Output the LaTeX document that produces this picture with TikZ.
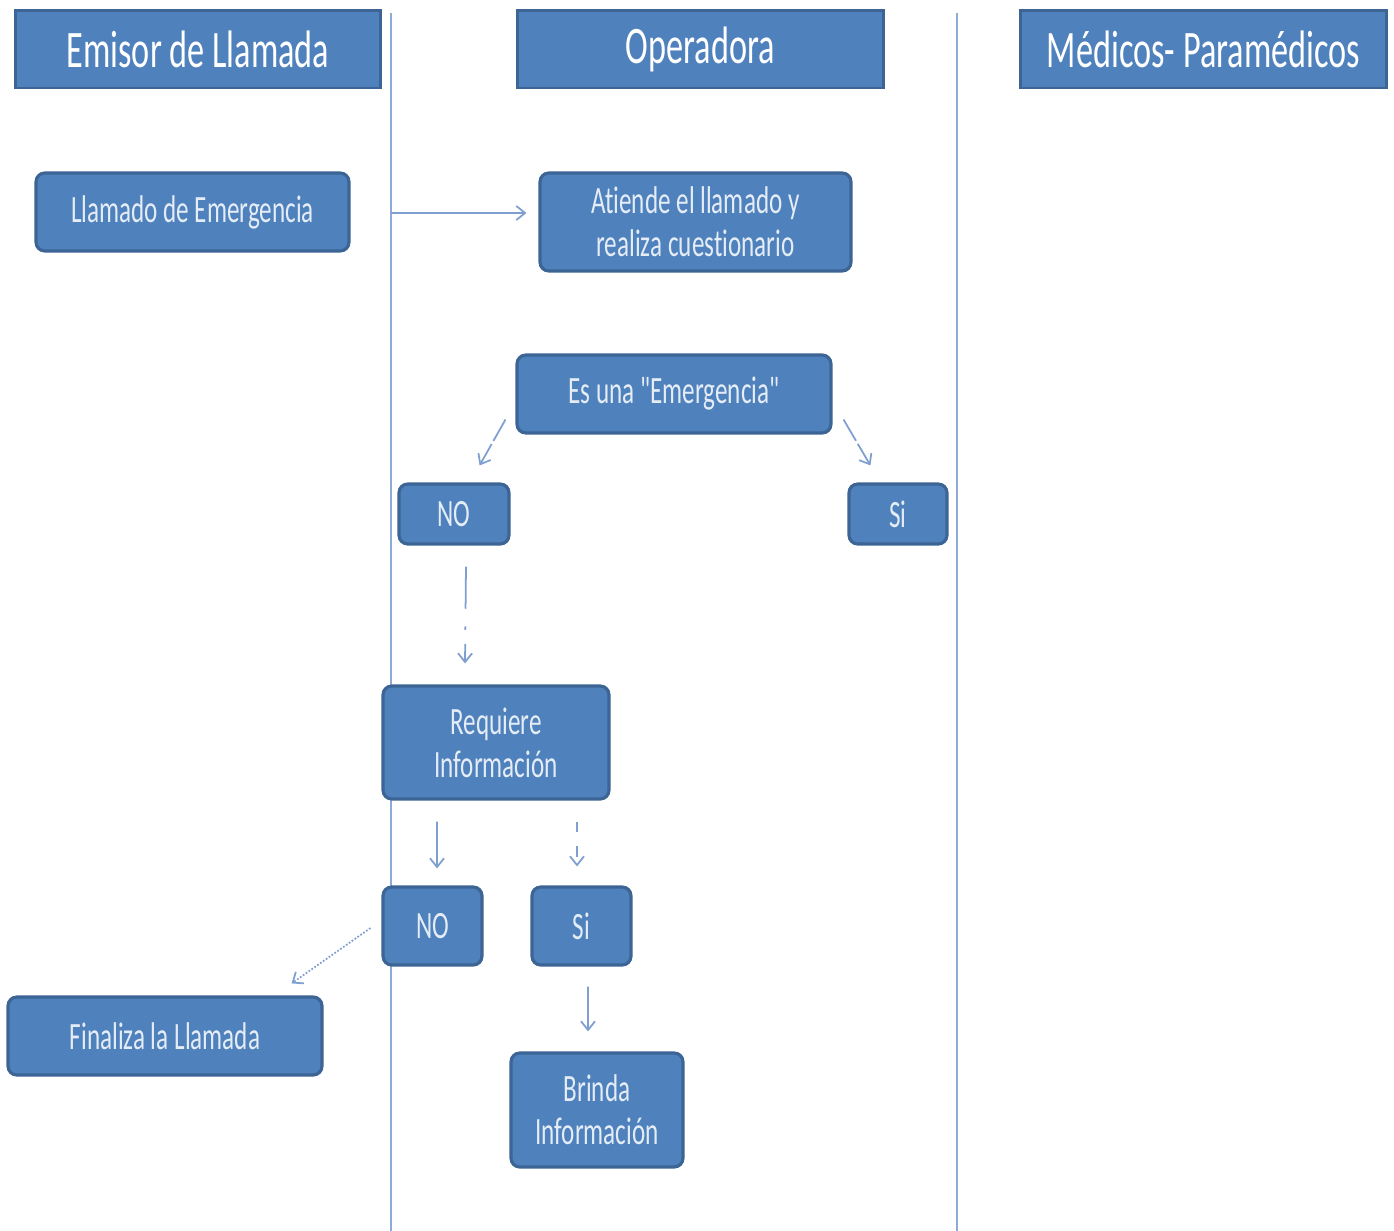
\documentclass[tikz,border=0pt]{standalone}
\usepackage{fontspec}
\setmainfont{Carlito}
\newfontfamily\cond[FakeStretch=0.65,Ligatures=NoCommon]{Carlito}
\usetikzlibrary{arrows.meta,calc}
\definecolor{boxfill}{HTML}{4F81BD}
\definecolor{boxline}{HTML}{3C6494}
\definecolor{lane}{HTML}{8EAAD6}
\definecolor{arr}{HTML}{7F9FD0}
\definecolor{btext}{HTML}{E4ECF6}
\begin{document}
\begin{tikzpicture}[x=0.02cm,y=-0.02cm,
  header/.style={draw=boxline, fill=boxfill, line width=1.7pt, text=white,
    font=\cond\fontsize{30}{34}\selectfont, inner sep=0pt, minimum height=1.56cm},
  box/.style={draw=boxline, fill=boxfill, line width=1.8pt, rounded corners=5pt,
    text=btext, font=\cond\fontsize{22}{24.5}\selectfont, align=center, inner sep=0pt},
  lanel/.style={draw=lane, line width=1.3pt},
  conn/.style={draw=arr, line width=1pt, -{Straight Barb[length=5pt,width=8pt]}}]
\useasboundingbox (0,0) rectangle (1394,1231);
% lanes
\coordinate (l1t) at (391,13); \coordinate (l1b) at (391,1231);
\coordinate (l2t) at (957,13); \coordinate (l2b) at (957,1231);
\draw[lanel] (l1t) -- (l1b);
\draw[lanel] (l2t) -- (l2b);
% headers
\node[header, minimum width=7.32cm] (h1) at (198,49) {Emisor de Llamada};
\node[header, minimum width=7.34cm] (h2) at (700.5,49) {Operadora};
\node[header, minimum width=7.34cm] (h3) at (1203.5,49) {Médicos- Paramédicos};
% boxes
\node[box, minimum width=6.26cm, minimum height=1.56cm] (llamado) at (192.5,212) {Llamado de Emergencia};
\node[box, minimum width=6.22cm, minimum height=1.96cm] (atiende) at (695.5,222) {Atiende el llamado y\\realiza cuestionario};
\node[box, minimum width=6.28cm, minimum height=1.56cm] (esuna) at (674,394) {Es una "Emergencia"};
\node[box, minimum width=2.2cm, minimum height=1.2cm] (no1) at (454,514) {NO};
\node[box, minimum width=1.96cm, minimum height=1.2cm] (si1) at (898,514) {Si};
\node[box, minimum width=4.52cm, minimum height=2.26cm] (req) at (496,742.5) {Requiere\\Información};
\node[box, minimum width=1.98cm, minimum height=1.56cm] (no2) at (432.5,926) {NO};
\node[box, minimum width=1.98cm, minimum height=1.56cm] (si2) at (581.5,926) {Si};
\node[box, minimum width=6.28cm, minimum height=1.56cm] (fin) at (165,1036) {Finaliza la Llamada};
\node[box, minimum width=3.44cm, minimum height=2.28cm] (brinda) at (597,1110) {Brinda\\Información};
% connectors
\draw[conn] ($(llamado.east)+(40,1)$) -- ($(atiende.west |- llamado.east)+(-12,1)$);
\draw[conn, dash pattern=on 14pt off 2pt] ($(esuna.south west)+(-10,-15)$) -- ($(no1.north east)+(-31,-17)$);
\draw[conn, dash pattern=on 14pt off 2pt] ($(esuna.south east)+(11,-15)$) -- ($(si1.north west)+(23,-17)$);
\draw[conn, dash pattern=on 24pt off 10pt on 2pt off 8pt] ($(no1.south)+(12,21)$) -- ($(req.north)+(-31,-21)$);
\draw[conn] ($(req.south)+(-59,21)$) -- ($(no2.north)+(4.5,-17)$);
\draw[conn, dash pattern=on 6pt off 8pt] ($(req.south)+(81,21)$) -- ($(si2.north)+(-4.5,-19)$);
\draw[conn, densely dotted] ($(no2.west)+(-11,2)$) -- ($(fin.north east)+(-32,-12)$);
\draw[conn] ($(si2.south)+(6.5,20)$) -- ($(brinda.north)+(-9,-20)$);
\end{tikzpicture}
\end{document}
